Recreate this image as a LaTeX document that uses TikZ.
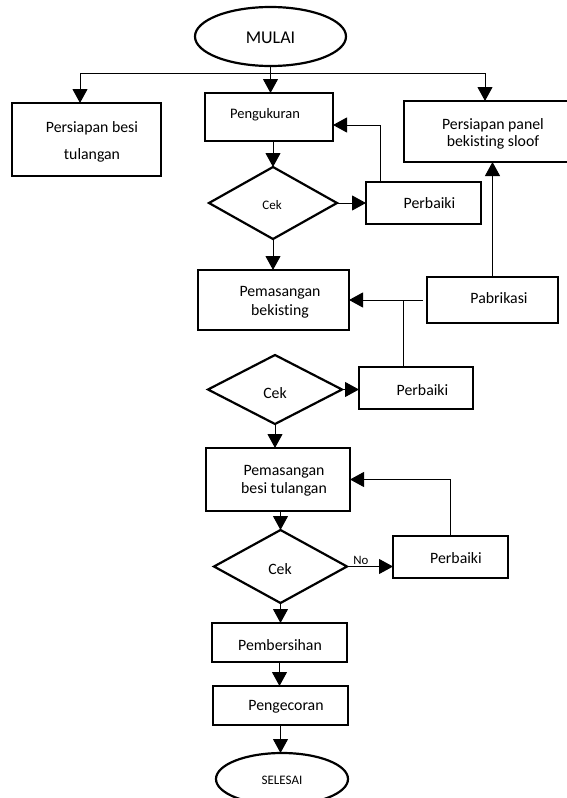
\documentclass[tikz,border=0pt]{standalone}
\usepackage{fontspec}
\setmainfont{Carlito}[Ligatures=CommonOff]
\usetikzlibrary{shapes.geometric,arrows.meta}
\begin{document}
\begin{tikzpicture}[x=1pt,y=-1pt,
  box/.style={draw,line width=2.2pt,rectangle,inner sep=0pt,outer sep=0pt},
  dec/.style={draw,line width=2.2pt,diamond,inner sep=0pt,outer sep=0pt},
  term/.style={draw,line width=2.2pt,ellipse,inner sep=0pt,outer sep=0pt},
  lbl/.style={inner sep=0pt,align=center,font=\fontsize{15.8}{19}\selectfont},
  small/.style={inner sep=0pt,align=center,font=\fontsize{13}{15}\selectfont},
  link/.style={line width=1pt},
  arr/.style={link,-{Triangle[length=14pt,width=15pt]}},
]
\useasboundingbox (0,0) rectangle (566,798);

% terminals
\node[term,minimum width=151pt,minimum height=59pt] (mulai) at (270.5,36.5) {};
\node[inner sep=0pt,font=\fontsize{18}{20}\selectfont] (mulaiT) at (270.5,38) {MULAI};
\node[term,minimum width=132pt,minimum height=52pt] (selesai) at (282,779) {};
\node[small] (selesaiT) at (282,780) {SELESAI};

% process boxes
\node[box,minimum width=149pt,minimum height=73pt] (besi) at (86.5,139.5) {};
\node[lbl] (besiT) at (92,141.5) {Persiapan besi\\[8pt]tulangan};
\node[box,minimum width=128pt,minimum height=48pt] (ukur) at (269,117) {};
\node[lbl,font=\fontsize{14.5}{17}\selectfont] (ukurT) at (265,115) {Pengukuran};
\node[box,minimum width=178pt,minimum height=61pt] (panel) at (493,131.5) {};
\node[lbl] (panelT) at (493,133.5) {Persiapan panel\\[-2pt]bekisting sloof};
\node[box,minimum width=115pt,minimum height=42pt] (per1) at (423.5,203) {};
\node[lbl] (per1T) at (429.5,203) {Perbaiki};
\node[box,minimum width=151pt,minimum height=60pt] (bek) at (273.5,300) {};
\node[lbl] (bekT) at (280,302.5) {Pemasangan\\bekisting};
\node[box,minimum width=131pt,minimum height=46pt] (pab) at (492.5,300) {};
\node[lbl] (pabT) at (499,298) {Pabrikasi};
\node[box,minimum width=114pt,minimum height=42pt] (per2) at (416,388) {};
\node[lbl] (per2T) at (422.5,390) {Perbaiki};
\node[box,minimum width=144pt,minimum height=63pt] (besit) at (278,479.5) {};
\node[lbl] (besitT) at (284,481) {Pemasangan\\[-1pt]besi tulangan};
\node[box,minimum width=115pt,minimum height=42pt] (per3) at (450.5,557) {};
\node[lbl] (per3T) at (456,558) {Perbaiki};
\node[box,minimum width=135pt,minimum height=39pt] (bersih) at (279.5,642.5) {};
\node[lbl] (bersihT) at (280,645) {Pembersihan};
\node[box,minimum width=135pt,minimum height=39pt] (cor) at (280.5,705.5) {};
\node[lbl] (corT) at (286,707) {Pengecoran};

% decisions
\node[dec,minimum width=128pt,minimum height=72pt] (cek1) at (273,203) {};
\node[small] (cek1T) at (272,205) {Cek};
\node[dec,minimum width=134pt,minimum height=69pt] (cek2) at (275,389.5) {};
\node[lbl] (cek2T) at (275,393) {Cek};
\node[dec,minimum width=133pt,minimum height=73pt] (cek3) at (280.5,566.5) {};
\node[lbl] (cek3T) at (280,569) {Cek};

% distribution from the start
\coordinate (lft) at (80,73);
\coordinate (rgt) at (485,73);
\draw[link] (lft) -- (rgt);
\draw[arr] (mulai.south) -- (mulai.south |- ukur.north);
\draw[arr] (lft) -- (lft |- besi.north);
\draw[arr] (rgt) -- (rgt |- panel.north);

% measuring loop
\draw[arr] (cek1.north |- ukur.south) -- (cek1.north);
\draw[arr] (cek1.east) -- (cek1.east -| per1.west);
\coordinate (k1) at (380,125);
\draw[arr] (k1 |- per1.north) -- (k1) -- (k1 -| ukur.east);
\draw[arr] (cek1.south) -- (cek1.south |- bek.north);

% formwork loop and fabrication
\draw[arr] (pab.north) -- (pab.north |- panel.south);
\draw[arr] ([xshift=-4pt]pab.west) -- (bek.east |- pab.west);
\coordinate (j2) at (403,300);
\draw[link] (j2) -- (j2 |- per2.north);
\draw[arr] (cek2.east) -- (cek2.east -| per2.west);
\draw[arr] (cek2.south) -- (cek2.south |- besit.north);

% reinforcement loop
\draw[arr] (per3.north) |- (besit.east);
\draw[arr] (cek3.north |- besit.south) -- (cek3.north);
\draw[arr] (cek3.east) -- (cek3.east -| per3.west)
  node[pos=0.3,above=1pt,inner sep=0pt,font=\fontsize{12.8}{14}\selectfont] (no) {No};
\draw[arr] (cek3.south) -- (cek3.south |- bersih.north);
\draw[arr] (bersih.south) -- (bersih.south |- cor.north);
\draw[arr] (cor.south) -- (cor.south |- selesai.north);
\end{tikzpicture}
\end{document}
